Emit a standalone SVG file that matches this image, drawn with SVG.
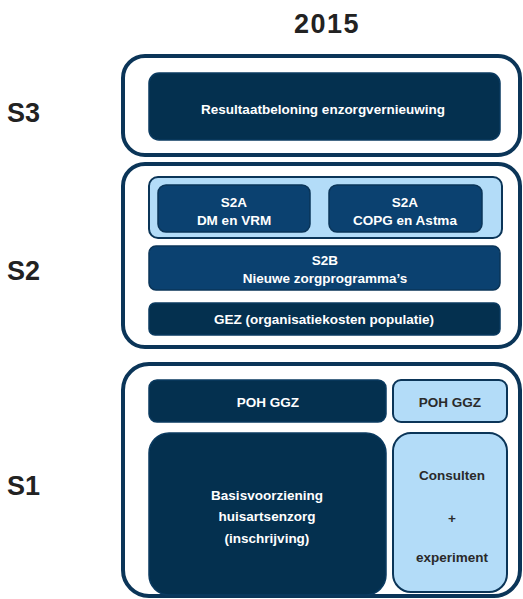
<svg xmlns="http://www.w3.org/2000/svg" width="523" height="599" viewBox="0 0 523 599">
<style>
.outer{fill:#fff;stroke:#0b3558;stroke-width:4}
.dark{fill:#04304f;stroke:#0a3a60;stroke-width:1.5}
.mid{fill:#0b4170;stroke:#0a3458;stroke-width:1.5}
.light{fill:#b3dcf8;stroke:#0b3558;stroke-width:2}
.t{font-family:"Liberation Sans",Arial,sans-serif;font-weight:bold;font-size:13.5px;fill:#fff;text-anchor:middle;dominant-baseline:central}
.td{font-family:"Liberation Sans",Arial,sans-serif;font-weight:bold;font-size:13.5px;fill:#2a2a2a;text-anchor:middle;dominant-baseline:central}
.lbl{font-family:"Liberation Sans",Arial,sans-serif;font-weight:bold;font-size:27px;fill:#222}
</style>
<text class="lbl" x="327" y="33" text-anchor="middle" font-size="29" letter-spacing="1.5">2015</text>
<g id="label-s3"><text class="lbl" x="7" y="122">S3</text></g>
<g id="label-s2"><text class="lbl" x="7" y="280">S2</text></g>
<g id="label-s1"><text class="lbl" x="7" y="495">S1</text></g>

<g id="s3">
<rect class="outer" x="123" y="56" width="397" height="99" rx="22"/>
<g id="s3-result">
<rect class="dark" x="149" y="73" width="351" height="67" rx="10"/>
<text class="t" x="323" y="109">Resultaatbeloning enzorgvernieuwing</text>
</g>
</g>

<g id="s2">
<rect class="outer" x="123" y="164" width="397" height="183" rx="22"/>
<g id="s2a-container">
<rect class="light" x="149" y="177" width="353" height="61" rx="9"/>
</g>
<g id="s2a-dm">
<rect class="mid" x="158" y="185" width="152" height="47" rx="8"/>
<text class="t" x="234" y="202">S2A</text>
<text class="t" x="234" y="220">DM en VRM</text>
</g>
<g id="s2a-copd">
<rect class="mid" x="329" y="185" width="153" height="47" rx="8"/>
<text class="t" x="405" y="202">S2A</text>
<text class="t" x="405" y="220">COPG en Astma</text>
</g>
<g id="s2b">
<rect class="mid" x="149" y="246" width="351" height="44" rx="7"/>
<text class="t" x="325" y="260">S2B</text>
<text class="t" x="325" y="278">Nieuwe zorgprogramma’s</text>
</g>
<g id="gez">
<rect class="dark" x="149" y="303" width="351" height="32" rx="6"/>
<text class="t" x="324" y="319">GEZ (organisatiekosten populatie)</text>
</g>
</g>

<g id="s1">
<rect class="outer" x="123" y="364" width="397" height="232" rx="26"/>
<g id="poh-dark">
<rect class="dark" x="149" y="380" width="237" height="42" rx="8"/>
<text class="t" x="268" y="402">POH GGZ</text>
</g>
<g id="poh-light">
<rect class="light" x="393" y="380" width="114" height="42" rx="8"/>
<text class="td" x="450" y="402">POH GGZ</text>
</g>
<g id="basis">
<rect class="dark" x="149" y="433" width="237" height="162" rx="20"/>
<text class="t" x="267" y="495">Basisvoorziening</text>
<text class="t" x="267" y="516">huisartsenzorg</text>
<text class="t" x="267" y="538">(inschrijving)</text>
</g>
<g id="consulten">
<rect class="light" x="393" y="433" width="114" height="159" rx="18"/>
<text class="td" x="452" y="475">Consulten</text>
<text class="td" x="452" y="518">+</text>
<text class="td" x="452" y="557">experiment</text>
</g>
</g>
<g id="connectors"/>
</svg>
